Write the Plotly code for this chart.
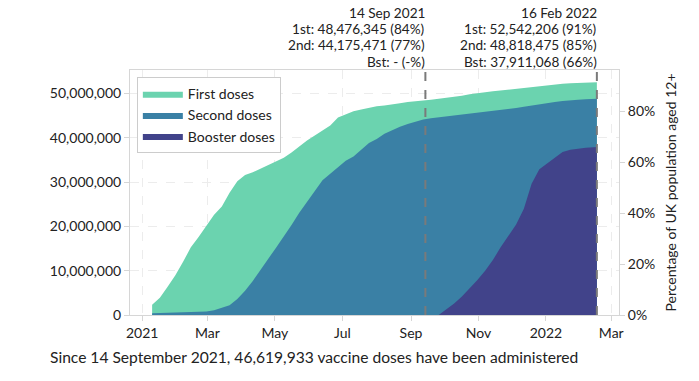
import plotly.graph_objects as go

POP = 57.4e6  # UK population aged 12+

dates = [
    "2021-01-10", "2021-01-17", "2021-01-24", "2021-01-31", "2021-02-07", "2021-02-14",
    "2021-02-21", "2021-02-28", "2021-03-07", "2021-03-14", "2021-03-21", "2021-03-28",
    "2021-04-04", "2021-04-11", "2021-04-18", "2021-04-25", "2021-05-02", "2021-05-09",
    "2021-05-16", "2021-05-23", "2021-05-30", "2021-06-06", "2021-06-13", "2021-06-20",
    "2021-06-27", "2021-07-04", "2021-07-11", "2021-07-18", "2021-07-25", "2021-08-01",
    "2021-08-08", "2021-08-15", "2021-08-22", "2021-08-29", "2021-09-05", "2021-09-12",
    "2021-09-19", "2021-09-26", "2021-10-03", "2021-10-10", "2021-10-17", "2021-10-24",
    "2021-10-31", "2021-11-07", "2021-11-14", "2021-11-21", "2021-11-28", "2021-12-05",
    "2021-12-12", "2021-12-19", "2021-12-26", "2022-01-02", "2022-01-09", "2022-01-16",
    "2022-01-23", "2022-01-30", "2022-02-06", "2022-02-13", "2022-02-16",
]

first_doses = [
    2.3e6, 3.9e6, 6.4e6, 9.0e6, 12.0e6, 15.3e6,
    17.6e6, 20.1e6, 22.6e6, 24.5e6, 27.6e6, 30.2e6,
    31.6e6, 32.2e6, 33.0e6, 33.8e6, 34.7e6, 35.5e6,
    36.7e6, 38.1e6, 39.4e6, 40.5e6, 41.6e6, 42.8e6,
    44.6e6, 45.3e6, 46.0e6, 46.4e6, 46.8e6, 47.1e6,
    47.3e6, 47.5e6, 47.8e6, 48.1e6, 48.2e6, 48.4e6,
    48.6e6, 48.8e6, 49.0e6, 49.3e6, 49.5e6, 49.8e6,
    50.1e6, 50.3e6, 50.5e6, 50.7e6, 50.9e6, 51.0e6,
    51.2e6, 51.5e6, 51.7e6, 51.9e6, 52.1e6, 52.2e6,
    52.3e6, 52.4e6, 52.45e6, 52.52e6, 52542206,
]

second_doses = [
    0.39e6, 0.44e6, 0.47e6, 0.50e6, 0.52e6, 0.54e6,
    0.62e6, 0.80e6, 1.10e6, 1.70e6, 2.20e6, 3.60e6,
    5.50e6, 7.70e6, 10.1e6, 12.7e6, 15.2e6, 17.7e6,
    20.3e6, 23.1e6, 25.5e6, 28.0e6, 30.4e6, 31.9e6,
    33.3e6, 34.8e6, 35.8e6, 37.2e6, 38.8e6, 39.7e6,
    40.9e6, 41.7e6, 42.5e6, 43.1e6, 43.6e6, 44.1e6,
    44.4e6, 44.6e6, 44.8e6, 45.0e6, 45.2e6, 45.4e6,
    45.6e6, 45.9e6, 46.1e6, 46.3e6, 46.5e6, 46.7e6,
    47.0e6, 47.3e6, 47.5e6, 47.8e6, 48.1e6, 48.3e6,
    48.5e6, 48.6e6, 48.7e6, 48.78e6, 48818475,
]

booster_dates = dates[37:]
booster_doses = [
    0.0, 1.2e6, 2.6e6, 4.2e6, 6.0e6, 7.9e6,
    10.0e6, 12.4e6, 15.3e6, 17.9e6, 20.4e6, 24.0e6,
    29.6e6, 32.9e6, 34.2e6, 35.7e6, 36.8e6, 37.3e6,
    37.6e6, 37.75e6, 37.87e6, 37911068,
]

x_tickvals = ["2021-01-01", "2021-03-01", "2021-05-01", "2021-07-01", "2021-09-01",
              "2021-11-01", "2022-01-01", "2022-03-01"]
x_ticktext = ["2021", "Mar", "May", "Jul", "Sep", "Nov", "2022", "Mar"]
y_tickvals = [0, 10e6, 20e6, 30e6, 40e6, 50e6]
pct_tickvals = [0, 20, 40, 60, 80]
pct_ticktext = ["0%", "20%", "40%", "60%", "80%"]

marker_dates = ["2021-09-14", "2022-02-16"]
marker_lines = [
    ["14 Sep 2021", "1st: 48,476,345 (84%)", "2nd: 44,175,471 (77%)", "Bst: - (-%)"],
    ["16 Feb 2022", "1st: 52,542,206 (91%)", "2nd: 48,818,475 (85%)", "Bst: 37,911,068 (66%)"],
]
caption = "Since 14 September 2021, 46,619,933 vaccine doses have been administered"

C_FIRST = "#6bd3af"
C_SECOND = "#3a80a5"
C_BOOST = "#41438a"
FONT = "Lato"
TXT = "#222222"

YMAX = 55.3e6

fig = go.Figure()
fig.add_trace(go.Scatter(x=dates, y=first_doses, name="First doses", mode="lines",
                         line=dict(width=0, color=C_FIRST), fill="tozeroy",
                         fillcolor=C_FIRST))
fig.add_trace(go.Scatter(x=dates, y=second_doses, name="Second doses", mode="lines",
                         line=dict(width=0, color=C_SECOND), fill="tozeroy",
                         fillcolor=C_SECOND))
fig.add_trace(go.Scatter(x=booster_dates, y=booster_doses, name="Booster doses", mode="lines",
                         line=dict(width=0, color=C_BOOST), fill="tozeroy",
                         fillcolor=C_BOOST))
# invisible trace to carry the percentage axis
fig.add_trace(go.Scatter(x=[dates[0]], y=[0], yaxis="y2", mode="markers",
                         marker=dict(opacity=0), showlegend=False, hoverinfo="skip"))

for d in marker_dates:
    fig.add_shape(type="line", xref="x", yref="paper", x0=d, x1=d, y0=0, y1=1,
                  line=dict(color="#7a7a7a", width=2, dash="dash"))

line_shifts = [57.4, 41.1, 24.8, 8.5]
for d, lines in zip(marker_dates, marker_lines):
    for t, s in zip(lines, line_shifts):
        fig.add_annotation(x=d, xref="x", y=1, yref="paper", text=t, showarrow=False,
                           xanchor="right", yanchor="middle", align="right",
                           xshift=1, yshift=s, borderpad=0,
                           font=dict(family=FONT, size=13.6, color=TXT))

fig.add_annotation(x=0.376, xref="paper", y=0, yref="paper", yshift=-42, text=caption,
                   showarrow=False, xanchor="center", yanchor="middle",
                   font=dict(family=FONT, size=15.6, color=TXT))

axis_common = dict(showline=True, linecolor="#d6d6d6", linewidth=1, ticks="outside",
                   ticklen=5, tickcolor="#d6d6d6", automargin=False,
                   tickfont=dict(family=FONT, size=14, color=TXT))

fig.update_layout(
    width=699, height=381,
    margin=dict(l=130, r=80, t=70, b=66),
    paper_bgcolor="white", plot_bgcolor="white",
    font=dict(family=FONT, size=14, color=TXT),
    xaxis=dict(type="date", range=["2020-12-21", "2022-03-08"], tickvals=x_tickvals,
               ticktext=x_ticktext, showgrid=True, gridcolor="#ececec", griddash="dash",
               mirror=True, **axis_common),
    yaxis=dict(range=[0, YMAX], tickvals=y_tickvals,
               tickformat=",d", showgrid=True, gridcolor="#ececec", griddash="dash",
               mirror=True, zeroline=False, **axis_common),
    yaxis2=dict(overlaying="y", side="right", range=[0, YMAX / POP * 100],
                tickvals=pct_tickvals, ticktext=pct_ticktext, showgrid=False, zeroline=False,
                title=dict(text="Percentage of UK population aged 12+",
                           font=dict(family=FONT, size=14, color=TXT), standoff=11),
                **axis_common),
    legend=dict(x=0.014, y=0.971, xanchor="left", yanchor="top", bgcolor="white",
                bordercolor="#cccccc", borderwidth=1, font=dict(family=FONT, size=14, color=TXT),
                tracegroupgap=0, itemwidth=40),
    showlegend=True,
)

# remove the default page margin so the figure fills the window from its top-left corner
fig.write_html("out.html", config={"displayModeBar": False},
               post_script="document.body.style.margin='0';")
